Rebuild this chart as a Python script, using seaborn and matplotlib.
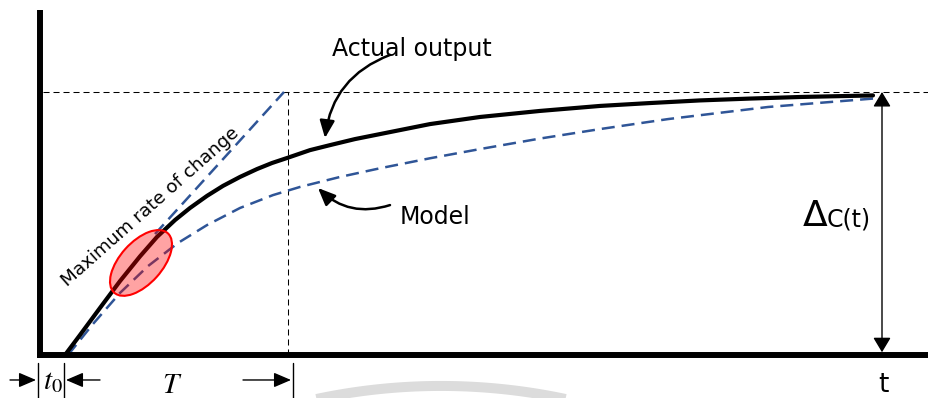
import numpy as np
import matplotlib
matplotlib.use("Agg")
import matplotlib.pyplot as plt
import matplotlib.transforms as mtransforms
from matplotlib.patches import Ellipse
import seaborn as sns

# Step response of the process (time in s, normalised response)
actual_t = [2.5, 4.0, 6.0, 8.0, 10.0, 11.7, 13.5, 15.0, 16.7, 18.3, 20.0, 21.7,
            23.2, 24.7, 27.0, 29.0, 31.5, 34.0, 39.0, 44.0, 50.0, 56.0, 61.0,
            66.0, 71.0, 76.0, 83.3]
actual_c = [0.0, 0.076, 0.179, 0.281, 0.375, 0.449, 0.513, 0.559, 0.605, 0.643,
            0.677, 0.707, 0.730, 0.749, 0.779, 0.798, 0.821, 0.840, 0.878, 0.905,
            0.928, 0.947, 0.958, 0.968, 0.975, 0.981, 0.987]

# First-order model fitted to the response
model_t = [2.8, 5.3, 8.0, 10.8, 13.8, 16.7, 20.0, 23.3, 26.0, 30.0, 34.0, 39.0,
           44.0, 50.0, 56.0, 62.8, 72.8, 83.3]
model_c = [0.0, 0.118, 0.236, 0.338, 0.426, 0.494, 0.559, 0.608, 0.639, 0.677,
           0.710, 0.748, 0.783, 0.823, 0.859, 0.897, 0.943, 0.975]

# Tangent at the point of maximum slope
tangent_t = [11.5, 24.4]
tangent_c = [0.46, 1.0]

t0 = 2.5          # dead time
T_end = 24.8      # t0 + time constant
final_value = 1.0
t_final = 84.2

sns.set_theme(style="white")
plt.rcParams["font.family"] = ["DejaVu Sans"]
plt.rcParams["mathtext.fontset"] = "stix"
plt.rcParams["text.color"] = "black"

fig = plt.figure(figsize=(9.29, 3.98), dpi=100)
ax = fig.add_axes([0, 0, 1, 1])
ax.set_xlim(-4, 88.9)
ax.set_ylim(-0.1635, 1.3498)
ax.axis("off")

blue = "#2F5597"

def px_at(tx, cy):
    """Transform in inches anchored at a data point."""
    return fig.dpi_scale_trans + mtransforms.ScaledTranslation(tx, cy, ax.transData)

# faint circular mark behind the lower axis
theta = np.radians(np.linspace(68, 112, 80))
ax.plot(6.0 * np.cos(theta), 6.0 * np.sin(theta), transform=px_at(40.1, -2.399),
        color="#dcdcdc", lw=7.2, solid_capstyle="butt", zorder=0)

# reference lines
ax.plot([0.3, 88.9], [final_value, final_value], color="black", lw=0.75,
        linestyle=(0, (5.8, 3.8)), zorder=1)
ax.plot([T_end, T_end], [0, final_value], color="black", lw=0.75,
        linestyle=(0, (5.8, 3.8)), zorder=1)

# curves
sns.lineplot(x=model_t, y=model_c, ax=ax, color=blue, linewidth=1.8,
             linestyle=(0, (5.2, 2.8)), sort=False, estimator=None, zorder=2)
sns.lineplot(x=tangent_t, y=tangent_c, ax=ax, color=blue, linewidth=1.8,
             linestyle=(0, (5.2, 2.8)), sort=False, estimator=None, zorder=2)
sns.lineplot(x=actual_t, y=actual_c, ax=ax, color="black", linewidth=3,
             sort=False, estimator=None, zorder=3)

# highlighted region of maximum slope
ax.add_patch(Ellipse((0, 0), width=0.80, height=0.42, angle=48,
                     transform=px_at(10.1, 0.35), facecolor=(1, 0, 0, 0.36),
                     edgecolor="#FF0000", lw=1.5, zorder=4))

# axes
ax.plot([0, 0], [-0.011, 1.312], color="black", lw=4.3, solid_capstyle="butt", zorder=5)
ax.plot([-0.3, 88.9], [0, 0], color="black", lw=4.3, solid_capstyle="butt", zorder=5)

# labels
ax.text(37.2, 1.137, "Actual output", fontsize=17, ha="center", va="baseline")
ax.text(36.0, 0.498, "Model", fontsize=17, ha="left", va="baseline")
ax.text(11.0, 0.563, "Maximum rate of change", fontsize=13.2, rotation=41.5,
        rotation_mode="anchor", ha="center", va="center")
ax.text(76.3, 0.49, "Δ", fontsize=26, ha="left", va="baseline")
ax.text(78.7, 0.49, "C(t)", fontsize=17, ha="left", va="baseline")
ax.text(84.3, -0.140, "t", fontsize=19, ha="center", va="baseline")

head = "-|>,head_length=0.7,head_width=0.3"
ax.annotate("", xy=(28.5, 0.825), xytext=(35.0, 1.141),
            arrowprops=dict(arrowstyle=head, connectionstyle="arc3,rad=0.3",
                            color="black", lw=1.8, mutation_scale=15,
                            shrinkA=0, shrinkB=0))
ax.annotate("", xy=(27.8, 0.635), xytext=(35.0, 0.570),
            arrowprops=dict(arrowstyle=head, connectionstyle="arc3,rad=-0.3",
                            color="black", lw=1.8, mutation_scale=15,
                            shrinkA=0, shrinkB=0))
ax.annotate("", xy=(t_final, 0.0105), xytext=(t_final, final_value),
            arrowprops=dict(arrowstyle="<|-|>,head_length=0.6,head_width=0.36",
                            color="black", lw=1.0, mutation_scale=15,
                            shrinkA=0, shrinkB=0))

# dead time and time constant markers below the axis
y_mark = -0.095
for xm in [-0.2, t0 - 0.1, 25.3]:
    ax.plot([xm, xm], [-0.030, -0.1635], color="black", lw=1.0, zorder=5)
for x_from, x_to in [(-3.0, -0.4), (6.0, 2.6), (20.3, 25.1)]:
    ax.annotate("", xy=(x_to, y_mark), xytext=(x_from, y_mark),
                arrowprops=dict(arrowstyle=head, color="black", lw=1.0,
                                mutation_scale=15, shrinkA=0, shrinkB=0))
ax.text(0.3, -0.128, r"$t_0$", fontsize=21, ha="left", va="baseline")
ax.text(13.2, -0.145, r"$T$", fontsize=21, ha="center", va="baseline")

fig.savefig("out.png", dpi=100, facecolor="white")
